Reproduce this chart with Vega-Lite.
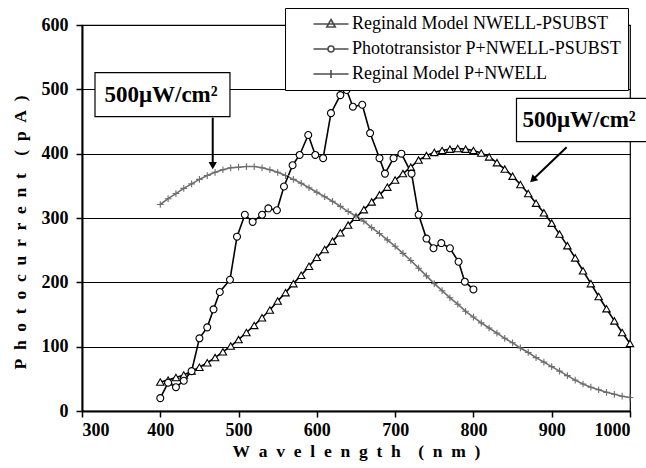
{
  "$schema": "https://vega.github.io/schema/vega-lite/v6.json",
  "width": 548,
  "height": 386,
  "autosize": "none",
  "padding": {"left": 82, "top": 25, "right": 16, "bottom": 57},
  "background": "white",
  "config": {
    "font": "Liberation Serif",
    "view": {"stroke": "black", "strokeWidth": 1.2},
    "axis": {
      "labelFont": "Liberation Serif", "labelFontWeight": "bold", "labelFontSize": 18, "labelColor": "black",
      "titleFont": "Liberation Serif", "titleFontWeight": "bold", "titleFontSize": 17.5, "titleColor": "black",
      "domainColor": "black", "domainWidth": 2, "tickColor": "black", "tickWidth": 1.5, "tickSize": 6
    },
    "legend": {"symbolBaseStrokeColor": "black", "symbolBaseFillColor": "white"}
  },
  "datasets": {
    "curves": [
      {"series": "Reginal Model P+NWELL", "wl": 400, "pa": 321}, {"series": "Reginal Model P+NWELL", "wl": 410, "pa": 330},
      {"series": "Reginal Model P+NWELL", "wl": 420, "pa": 338}, {"series": "Reginal Model P+NWELL", "wl": 430, "pa": 346},
      {"series": "Reginal Model P+NWELL", "wl": 440, "pa": 353}, {"series": "Reginal Model P+NWELL", "wl": 450, "pa": 360},
      {"series": "Reginal Model P+NWELL", "wl": 460, "pa": 366}, {"series": "Reginal Model P+NWELL", "wl": 470, "pa": 371},
      {"series": "Reginal Model P+NWELL", "wl": 480, "pa": 375}, {"series": "Reginal Model P+NWELL", "wl": 490, "pa": 378},
      {"series": "Reginal Model P+NWELL", "wl": 500, "pa": 379}, {"series": "Reginal Model P+NWELL", "wl": 510, "pa": 380},
      {"series": "Reginal Model P+NWELL", "wl": 520, "pa": 380}, {"series": "Reginal Model P+NWELL", "wl": 530, "pa": 378},
      {"series": "Reginal Model P+NWELL", "wl": 540, "pa": 375}, {"series": "Reginal Model P+NWELL", "wl": 550, "pa": 371},
      {"series": "Reginal Model P+NWELL", "wl": 560, "pa": 366}, {"series": "Reginal Model P+NWELL", "wl": 570, "pa": 360},
      {"series": "Reginal Model P+NWELL", "wl": 580, "pa": 354}, {"series": "Reginal Model P+NWELL", "wl": 590, "pa": 347},
      {"series": "Reginal Model P+NWELL", "wl": 600, "pa": 340}, {"series": "Reginal Model P+NWELL", "wl": 610, "pa": 333},
      {"series": "Reginal Model P+NWELL", "wl": 620, "pa": 326}, {"series": "Reginal Model P+NWELL", "wl": 630, "pa": 318},
      {"series": "Reginal Model P+NWELL", "wl": 640, "pa": 310}, {"series": "Reginal Model P+NWELL", "wl": 650, "pa": 303},
      {"series": "Reginal Model P+NWELL", "wl": 660, "pa": 295}, {"series": "Reginal Model P+NWELL", "wl": 670, "pa": 285},
      {"series": "Reginal Model P+NWELL", "wl": 680, "pa": 276}, {"series": "Reginal Model P+NWELL", "wl": 690, "pa": 266},
      {"series": "Reginal Model P+NWELL", "wl": 700, "pa": 256}, {"series": "Reginal Model P+NWELL", "wl": 710, "pa": 245},
      {"series": "Reginal Model P+NWELL", "wl": 720, "pa": 234}, {"series": "Reginal Model P+NWELL", "wl": 730, "pa": 222},
      {"series": "Reginal Model P+NWELL", "wl": 740, "pa": 210}, {"series": "Reginal Model P+NWELL", "wl": 750, "pa": 198},
      {"series": "Reginal Model P+NWELL", "wl": 760, "pa": 187}, {"series": "Reginal Model P+NWELL", "wl": 770, "pa": 176},
      {"series": "Reginal Model P+NWELL", "wl": 780, "pa": 166}, {"series": "Reginal Model P+NWELL", "wl": 790, "pa": 155},
      {"series": "Reginal Model P+NWELL", "wl": 800, "pa": 146}, {"series": "Reginal Model P+NWELL", "wl": 810, "pa": 137},
      {"series": "Reginal Model P+NWELL", "wl": 820, "pa": 129}, {"series": "Reginal Model P+NWELL", "wl": 830, "pa": 121},
      {"series": "Reginal Model P+NWELL", "wl": 840, "pa": 113}, {"series": "Reginal Model P+NWELL", "wl": 850, "pa": 106},
      {"series": "Reginal Model P+NWELL", "wl": 860, "pa": 98}, {"series": "Reginal Model P+NWELL", "wl": 870, "pa": 91},
      {"series": "Reginal Model P+NWELL", "wl": 880, "pa": 83}, {"series": "Reginal Model P+NWELL", "wl": 890, "pa": 76},
      {"series": "Reginal Model P+NWELL", "wl": 900, "pa": 69}, {"series": "Reginal Model P+NWELL", "wl": 910, "pa": 62},
      {"series": "Reginal Model P+NWELL", "wl": 920, "pa": 55}, {"series": "Reginal Model P+NWELL", "wl": 930, "pa": 48},
      {"series": "Reginal Model P+NWELL", "wl": 940, "pa": 42}, {"series": "Reginal Model P+NWELL", "wl": 950, "pa": 37},
      {"series": "Reginal Model P+NWELL", "wl": 960, "pa": 33}, {"series": "Reginal Model P+NWELL", "wl": 970, "pa": 29},
      {"series": "Reginal Model P+NWELL", "wl": 980, "pa": 26}, {"series": "Reginal Model P+NWELL", "wl": 990, "pa": 23},
      {"series": "Reginal Model P+NWELL", "wl": 1000, "pa": 21},

      {"series": "Reginald Model NWELL-PSUBST", "wl": 400, "pa": 45}, {"series": "Reginald Model NWELL-PSUBST", "wl": 410, "pa": 48},
      {"series": "Reginald Model NWELL-PSUBST", "wl": 420, "pa": 52}, {"series": "Reginald Model NWELL-PSUBST", "wl": 430, "pa": 56},
      {"series": "Reginald Model NWELL-PSUBST", "wl": 440, "pa": 62}, {"series": "Reginald Model NWELL-PSUBST", "wl": 450, "pa": 68},
      {"series": "Reginald Model NWELL-PSUBST", "wl": 460, "pa": 75}, {"series": "Reginald Model NWELL-PSUBST", "wl": 470, "pa": 83},
      {"series": "Reginald Model NWELL-PSUBST", "wl": 480, "pa": 92}, {"series": "Reginald Model NWELL-PSUBST", "wl": 490, "pa": 101},
      {"series": "Reginald Model NWELL-PSUBST", "wl": 500, "pa": 111}, {"series": "Reginald Model NWELL-PSUBST", "wl": 510, "pa": 122},
      {"series": "Reginald Model NWELL-PSUBST", "wl": 520, "pa": 133}, {"series": "Reginald Model NWELL-PSUBST", "wl": 530, "pa": 145},
      {"series": "Reginald Model NWELL-PSUBST", "wl": 540, "pa": 157}, {"series": "Reginald Model NWELL-PSUBST", "wl": 550, "pa": 171},
      {"series": "Reginald Model NWELL-PSUBST", "wl": 560, "pa": 184}, {"series": "Reginald Model NWELL-PSUBST", "wl": 570, "pa": 198},
      {"series": "Reginald Model NWELL-PSUBST", "wl": 580, "pa": 211}, {"series": "Reginald Model NWELL-PSUBST", "wl": 590, "pa": 225},
      {"series": "Reginald Model NWELL-PSUBST", "wl": 600, "pa": 239}, {"series": "Reginald Model NWELL-PSUBST", "wl": 610, "pa": 251},
      {"series": "Reginald Model NWELL-PSUBST", "wl": 620, "pa": 264}, {"series": "Reginald Model NWELL-PSUBST", "wl": 630, "pa": 277},
      {"series": "Reginald Model NWELL-PSUBST", "wl": 640, "pa": 289}, {"series": "Reginald Model NWELL-PSUBST", "wl": 650, "pa": 301},
      {"series": "Reginald Model NWELL-PSUBST", "wl": 660, "pa": 313}, {"series": "Reginald Model NWELL-PSUBST", "wl": 670, "pa": 325},
      {"series": "Reginald Model NWELL-PSUBST", "wl": 680, "pa": 336}, {"series": "Reginald Model NWELL-PSUBST", "wl": 690, "pa": 348},
      {"series": "Reginald Model NWELL-PSUBST", "wl": 700, "pa": 359}, {"series": "Reginald Model NWELL-PSUBST", "wl": 710, "pa": 369},
      {"series": "Reginald Model NWELL-PSUBST", "wl": 720, "pa": 379}, {"series": "Reginald Model NWELL-PSUBST", "wl": 730, "pa": 390},
      {"series": "Reginald Model NWELL-PSUBST", "wl": 740, "pa": 397}, {"series": "Reginald Model NWELL-PSUBST", "wl": 750, "pa": 402},
      {"series": "Reginald Model NWELL-PSUBST", "wl": 760, "pa": 405}, {"series": "Reginald Model NWELL-PSUBST", "wl": 770, "pa": 407},
      {"series": "Reginald Model NWELL-PSUBST", "wl": 780, "pa": 408}, {"series": "Reginald Model NWELL-PSUBST", "wl": 790, "pa": 407},
      {"series": "Reginald Model NWELL-PSUBST", "wl": 800, "pa": 405}, {"series": "Reginald Model NWELL-PSUBST", "wl": 810, "pa": 401},
      {"series": "Reginald Model NWELL-PSUBST", "wl": 820, "pa": 395}, {"series": "Reginald Model NWELL-PSUBST", "wl": 830, "pa": 386},
      {"series": "Reginald Model NWELL-PSUBST", "wl": 840, "pa": 376}, {"series": "Reginald Model NWELL-PSUBST", "wl": 850, "pa": 365},
      {"series": "Reginald Model NWELL-PSUBST", "wl": 860, "pa": 352}, {"series": "Reginald Model NWELL-PSUBST", "wl": 870, "pa": 338},
      {"series": "Reginald Model NWELL-PSUBST", "wl": 880, "pa": 323}, {"series": "Reginald Model NWELL-PSUBST", "wl": 890, "pa": 308},
      {"series": "Reginald Model NWELL-PSUBST", "wl": 900, "pa": 292}, {"series": "Reginald Model NWELL-PSUBST", "wl": 910, "pa": 275},
      {"series": "Reginald Model NWELL-PSUBST", "wl": 920, "pa": 257}, {"series": "Reginald Model NWELL-PSUBST", "wl": 930, "pa": 238},
      {"series": "Reginald Model NWELL-PSUBST", "wl": 940, "pa": 218}, {"series": "Reginald Model NWELL-PSUBST", "wl": 950, "pa": 198},
      {"series": "Reginald Model NWELL-PSUBST", "wl": 960, "pa": 178}, {"series": "Reginald Model NWELL-PSUBST", "wl": 970, "pa": 159},
      {"series": "Reginald Model NWELL-PSUBST", "wl": 980, "pa": 140}, {"series": "Reginald Model NWELL-PSUBST", "wl": 990, "pa": 122},
      {"series": "Reginald Model NWELL-PSUBST", "wl": 1000, "pa": 105},

      {"series": "Phototransistor P+NWELL-PSUBST", "wl": 400, "pa": 20}, {"series": "Phototransistor P+NWELL-PSUBST", "wl": 410, "pa": 44},
      {"series": "Phototransistor P+NWELL-PSUBST", "wl": 420, "pa": 37}, {"series": "Phototransistor P+NWELL-PSUBST", "wl": 430, "pa": 47},
      {"series": "Phototransistor P+NWELL-PSUBST", "wl": 440, "pa": 62}, {"series": "Phototransistor P+NWELL-PSUBST", "wl": 450, "pa": 113},
      {"series": "Phototransistor P+NWELL-PSUBST", "wl": 460, "pa": 130}, {"series": "Phototransistor P+NWELL-PSUBST", "wl": 468, "pa": 158},
      {"series": "Phototransistor P+NWELL-PSUBST", "wl": 476, "pa": 185}, {"series": "Phototransistor P+NWELL-PSUBST", "wl": 489, "pa": 204},
      {"series": "Phototransistor P+NWELL-PSUBST", "wl": 498, "pa": 271}, {"series": "Phototransistor P+NWELL-PSUBST", "wl": 508, "pa": 305},
      {"series": "Phototransistor P+NWELL-PSUBST", "wl": 518, "pa": 294}, {"series": "Phototransistor P+NWELL-PSUBST", "wl": 530, "pa": 305},
      {"series": "Phototransistor P+NWELL-PSUBST", "wl": 538, "pa": 315}, {"series": "Phototransistor P+NWELL-PSUBST", "wl": 549, "pa": 312},
      {"series": "Phototransistor P+NWELL-PSUBST", "wl": 558, "pa": 349}, {"series": "Phototransistor P+NWELL-PSUBST", "wl": 569, "pa": 382},
      {"series": "Phototransistor P+NWELL-PSUBST", "wl": 578, "pa": 398}, {"series": "Phototransistor P+NWELL-PSUBST", "wl": 589, "pa": 429},
      {"series": "Phototransistor P+NWELL-PSUBST", "wl": 598, "pa": 398}, {"series": "Phototransistor P+NWELL-PSUBST", "wl": 608, "pa": 393},
      {"series": "Phototransistor P+NWELL-PSUBST", "wl": 618, "pa": 463}, {"series": "Phototransistor P+NWELL-PSUBST", "wl": 630, "pa": 491},
      {"series": "Phototransistor P+NWELL-PSUBST", "wl": 638, "pa": 499}, {"series": "Phototransistor P+NWELL-PSUBST", "wl": 646, "pa": 473},
      {"series": "Phototransistor P+NWELL-PSUBST", "wl": 658, "pa": 476}, {"series": "Phototransistor P+NWELL-PSUBST", "wl": 668, "pa": 432},
      {"series": "Phototransistor P+NWELL-PSUBST", "wl": 680, "pa": 393}, {"series": "Phototransistor P+NWELL-PSUBST", "wl": 687, "pa": 369},
      {"series": "Phototransistor P+NWELL-PSUBST", "wl": 698, "pa": 393}, {"series": "Phototransistor P+NWELL-PSUBST", "wl": 708, "pa": 400},
      {"series": "Phototransistor P+NWELL-PSUBST", "wl": 721, "pa": 369}, {"series": "Phototransistor P+NWELL-PSUBST", "wl": 730, "pa": 305},
      {"series": "Phototransistor P+NWELL-PSUBST", "wl": 740, "pa": 268}, {"series": "Phototransistor P+NWELL-PSUBST", "wl": 749, "pa": 253},
      {"series": "Phototransistor P+NWELL-PSUBST", "wl": 759, "pa": 261}, {"series": "Phototransistor P+NWELL-PSUBST", "wl": 770, "pa": 253},
      {"series": "Phototransistor P+NWELL-PSUBST", "wl": 781, "pa": 232}, {"series": "Phototransistor P+NWELL-PSUBST", "wl": 789, "pa": 201},
      {"series": "Phototransistor P+NWELL-PSUBST", "wl": 800, "pa": 189}
    ],
    "boxes": [
      {"wl": 316.6, "wl2": 489, "pa": 457.5, "pa2": 526},
      {"wl": 855, "wl2": 1024, "pa": 418.6, "pa2": 486}
    ],
    "notes": [
      {"wl": 401, "pa": 481, "label": "500μW/cm²"},
      {"wl": 935, "pa": 442, "label": "500μW/cm²"}
    ],
    "arrows": [
      {"wl": 467, "pa": 456, "wl2": 467, "pa2": 384},
      {"wl": 919, "pa": 410, "wl2": 877, "pa2": 361}
    ],
    "heads": [
      {"name": "left", "wl": 467, "pa": 381.5},
      {"name": "right", "wl": 875.8, "pa": 359.6}
    ]
  },
  "encoding": {
    "x": {
      "field": "wl", "type": "quantitative",
      "scale": {"domain": [300, 1000], "nice": false, "zero": false},
      "axis": {"values": [300, 400, 500, 600, 700, 800, 900, 1000], "format": "d", "grid": false, "labelPadding": 4, "titlePadding": 3,
        "title": "W\u2002a\u2002v\u2002e\u2002l\u2002e\u2002n\u2002g\u2002t\u2002h\u2002\u2002(\u2002n\u2002m\u2002)"}
    },
    "y": {
      "field": "pa", "type": "quantitative",
      "scale": {"domain": [0, 600], "nice": false},
      "axis": {"values": [0, 100, 200, 300, 400, 500, 600], "format": "d", "grid": true, "gridColor": "black", "gridWidth": 1, "labelPadding": 8, "titlePadding": 12, "titleY": 207,
        "title": "P\u2002h\u2002o\u2002t\u2002o\u2002c\u2002u\u2002r\u2002r\u2002e\u2002n\u2002t\u2002\u2002(\u2002p\u2002A\u2002)"}
    }
  },
  "resolve": {"scale": {"shape": "independent"}},
  "layer": [
    {
      "data": {"name": "curves"},
      "mark": {"type": "line", "strokeWidth": 1.6},
      "encoding": {
        "detail": {"field": "series", "type": "nominal"},
        "stroke": {"field": "series", "type": "nominal",
          "scale": {"domain": ["Reginald Model NWELL-PSUBST", "Phototransistor P+NWELL-PSUBST", "Reginal Model P+NWELL"], "range": ["black", "black", "#6e6e6e"]},
          "legend": null}
      }
    },
    {
      "data": {"name": "curves"},
      "transform": [{"filter": "datum.series === 'Reginald Model NWELL-PSUBST'"}],
      "mark": {"type": "point", "shape": "triangle-up", "filled": false, "fill": "white", "fillOpacity": 1, "stroke": "black", "strokeWidth": 1.1, "size": 55, "opacity": 1},
      "encoding": {}
    },
    {
      "data": {"name": "curves"},
      "transform": [{"filter": "datum.series === 'Phototransistor P+NWELL-PSUBST'"}],
      "mark": {"type": "point", "shape": "circle", "filled": false, "fill": "white", "fillOpacity": 1, "stroke": "black", "strokeWidth": 1.1, "size": 48, "opacity": 1},
      "encoding": {}
    },
    {
      "data": {"name": "curves"},
      "transform": [{"filter": "datum.series === 'Reginal Model P+NWELL'"}],
      "mark": {"type": "point", "shape": "M-1,0H1M0,-1V1", "filled": false, "stroke": "#6e6e6e", "strokeWidth": 1.1, "size": 45, "opacity": 1},
      "encoding": {}
    },
    {
      "data": {"name": "curves"},
      "transform": [{"filter": "false"}],
      "mark": {"type": "point", "filled": false, "strokeWidth": 1.6},
      "encoding": {
        "shape": {"field": "series", "type": "nominal",
          "scale": {"domain": ["Reginald Model NWELL-PSUBST", "Phototransistor P+NWELL-PSUBST", "Reginal Model P+NWELL"],
            "range": ["M-3.5,0H3.5M0,-0.9L0.85,0.6H-0.85Z", "M-3.5,0H-0.6M0.6,0H3.5M0.6,0A0.6,0.6 0 1 1 -0.6,0A0.6,0.6 0 1 1 0.6,0", "M-3.5,0H3.5M0,-0.8V0.8"]},
          "legend": {
            "title": null, "orient": "none", "legendX": 203, "legendY": -17,
            "fillColor": "white", "strokeColor": "black", "padding": 7,
            "labelFont": "Liberation Serif", "labelFontSize": 18, "labelFontWeight": "normal", "labelColor": "black", "labelLimit": 500,
            "symbolSize": 100, "symbolOffset": 30, "labelOffset": 12, "rowPadding": 7,
            "symbolStrokeWidth": 1.6, "symbolStrokeColor": "black", "symbolFillColor": "white"
          }}
      }
    },
    {
      "data": {"name": "boxes"},
      "mark": {"type": "rect", "fill": "white", "stroke": "black", "strokeWidth": 1.2, "clip": false},
      "encoding": {"x2": {"field": "wl2"}, "y2": {"field": "pa2"}}
    },
    {
      "data": {"name": "notes"},
      "mark": {"type": "text", "font": "Liberation Serif", "fontWeight": "bold", "fontSize": 23, "color": "black", "align": "center", "baseline": "alphabetic", "clip": false},
      "encoding": {"text": {"field": "label"}}
    },
    {
      "data": {"name": "arrows"},
      "mark": {"type": "rule", "color": "black", "strokeWidth": 2},
      "encoding": {"x2": {"field": "wl2"}, "y2": {"field": "pa2"}}
    },
    {
      "data": {"name": "heads"},
      "transform": [{"filter": "datum.name === 'left'"}],
      "mark": {"type": "point", "shape": "triangle-down", "filled": true, "color": "black", "size": 70, "opacity": 1},
      "encoding": {}
    },
    {
      "data": {"name": "heads"},
      "transform": [{"filter": "datum.name === 'right'"}],
      "mark": {"type": "point", "shape": "triangle-down", "filled": true, "color": "black", "size": 70, "angle": 46, "opacity": 1},
      "encoding": {}
    }
  ]
}
